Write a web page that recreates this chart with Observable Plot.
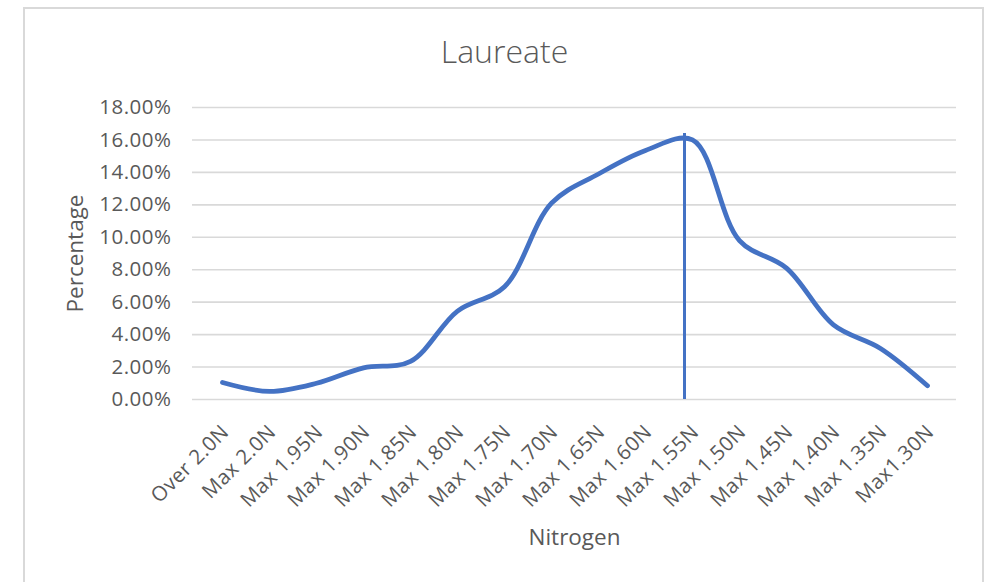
<!DOCTYPE html>
<html>
<head>
<meta charset="utf-8">
<script src="https://cdn.jsdelivr.net/npm/d3@7"></script>
<script src="https://cdn.jsdelivr.net/npm/@observablehq/plot@0.6"></script>
<style>
  html, body { margin: 0; padding: 0; background: #ffffff; }
  #wrap { position: relative; width: 994px; height: 582px; overflow: hidden; background: #fff; }
  #frame { position: absolute; left: 23px; top: 7px; width: 961px; height: 600px; border: 2px solid #d9d9d9; box-sizing: border-box; }
  #chart { position: absolute; left: 0; top: 0; }
  #chart svg g[aria-label="y-axis tick label"], #chart svg g[aria-label="x-axis tick label"] { letter-spacing: 0.5px; }
</style>
</head>
<body>
<div id="wrap"><div id="frame"></div><div id="chart"></div></div>
<script>
const chartTitle = "Laureate";
const xTitle = "Nitrogen";
const yTitle = "Percentage";
const categories = ["Over 2.0N","Max 2.0N","Max 1.95N","Max 1.90N","Max 1.85N","Max 1.80N","Max 1.75N","Max 1.70N","Max 1.65N","Max 1.60N","Max 1.55N","Max 1.50N","Max 1.45N","Max 1.40N","Max 1.35N","Max1.30N"];
const values = [1.05, 0.5, 1.0, 1.95, 2.35, 5.45, 6.95, 12.1, 13.9, 15.35, 16.0, 9.8, 8.1, 4.6, 3.15, 0.85];
const yTicks = [0, 2, 4, 6, 8, 10, 12, 14, 16, 18];
const markerCategory = ["Max 1.55N"];
const markerTop = [16.4];

const data = categories.map((c, i) => ({category: c, value: values[i]}));
const markers = markerCategory.map((c, i) => ({category: c, top: markerTop[i]}));

const blue = "#4472C4";
const grey = "#595959";
const font = "'Open Sans', sans-serif";

const chart = Plot.plot({
  width: 994,
  height: 582,
  marginLeft: 192,
  marginRight: 38,
  marginTop: 107,
  marginBottom: 183,
  style: {fontFamily: font, fontSize: "20.5px", color: grey, background: "transparent"},
  x: {type: "point", domain: categories, padding: 0.5, label: null},
  y: {domain: [0, 18], label: null},
  marks: [
    Plot.gridY(yTicks, {stroke: "#d9d9d9", strokeWidth: 1.6, strokeOpacity: 1}),
    Plot.axisY(yTicks, {tickSize: 0, tickPadding: 21, tickFormat: d => d.toFixed(2) + "%", fill: grey, label: null, fontSize: 20.5}),
    Plot.axisX({tickSize: 0, tickRotate: -45, tickPadding: 29, dx: 3, fill: grey, label: null, fontSize: 20.5}),
    Plot.line(data, {x: "category", y: "value", stroke: blue, strokeWidth: 4.8, curve: "catmull-rom", strokeLinecap: "round", strokeLinejoin: "round"}),
    Plot.ruleX(markers, {x: "category", y1: 0, y2: "top", stroke: blue, strokeWidth: 3, dx: -8}),
    Plot.text([chartTitle], {frameAnchor: "top", dx: -70, dy: -55, text: d => d, fontSize: 32, fontWeight: 300, fill: grey, lineAnchor: "middle"}),
    Plot.text([yTitle], {frameAnchor: "left", dx: -117, text: d => d, rotate: -90, fontSize: 22.5, fill: grey, textAnchor: "middle", lineAnchor: "middle"}),
    Plot.text([xTitle], {frameAnchor: "bottom", dy: 138, text: d => d, fontSize: 22.5, fill: grey, textAnchor: "middle", lineAnchor: "middle"})
  ]
});
document.getElementById("chart").appendChild(chart);
</script>
</body>
</html>
